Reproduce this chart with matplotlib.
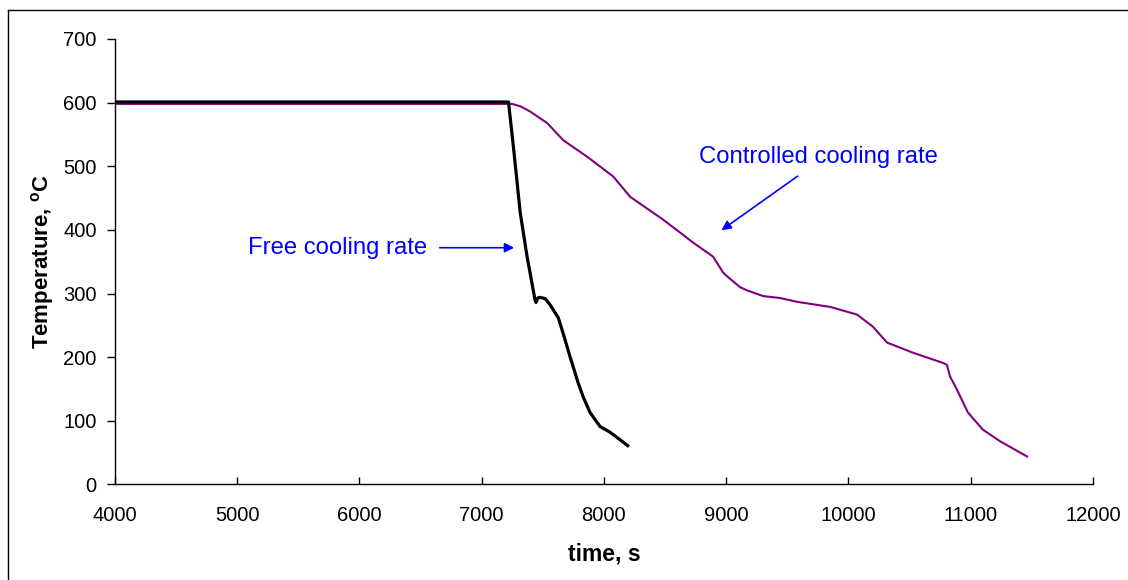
import matplotlib
matplotlib.use("Agg")
import matplotlib.pyplot as plt
from matplotlib.lines import Line2D

plt.rcParams['font.family'] = ['Liberation Sans', 'DejaVu Sans']
plt.rcParams['mathtext.fontset'] = 'custom'
plt.rcParams['mathtext.rm'] = 'Liberation Sans'
plt.rcParams['mathtext.bf'] = 'Liberation Sans:bold'

# Free cooling (black)
free_time = [4000, 7220, 7260, 7316, 7372, 7437, 7445, 7460, 7477, 7520, 7558, 7627,
             7666, 7723, 7789, 7830, 7887, 7969, 8051, 8120, 8195]
free_temp = [601, 601, 531, 427, 358, 290, 286, 293, 294, 292, 283, 262,
             238, 201, 160, 138, 113, 91, 82, 72, 61]

# Controlled cooling (purple)
ctrl_time = [4000, 7250, 7320, 7397, 7536, 7667, 7863, 8076, 8215, 8485, 8622, 8730,
             8893, 8975, 9008, 9114, 9171, 9302, 9441, 9580, 9850, 10070, 10200, 10315,
             10528, 10773, 10805, 10830, 10887, 10977, 11100, 11239, 11460]
ctrl_temp = [598, 598, 594, 586, 568, 541, 515, 484, 452, 416, 396, 380,
             358, 333, 327, 310, 305, 296, 293, 287, 279, 267, 248, 223,
             207, 191, 188, 170, 149, 113, 86, 68, 44]

x_ticks = [4000, 5000, 6000, 7000, 8000, 9000, 10000, 11000, 12000]
y_ticks = [0, 100, 200, 300, 400, 500, 600, 700]

fig = plt.figure(figsize=(11.28, 5.80), dpi=100)
ax = fig.add_axes([0.1017, 0.1647, 0.8673, 0.7681])

ax.plot(ctrl_time, ctrl_temp, color='#800080', lw=1.5, zorder=2)
ax.plot(free_time, free_temp, color='black', lw=2.3, zorder=3)

ax.set_xlim(4000, 12000)
ax.set_ylim(0, 700)
ax.set_xticks(x_ticks)
ax.set_yticks(y_ticks)
ax.tick_params(axis='x', direction='in', length=5, width=1, labelsize=14.5, pad=15.5)
ax.tick_params(axis='y', direction='out', length=6, width=1, labelsize=14.5, pad=7)
ax.spines['top'].set_visible(False)
ax.spines['right'].set_visible(False)
for s in ('left', 'bottom'):
    ax.spines[s].set_linewidth(1)

ax.set_xlabel('time, s', fontsize=16.5, fontweight='bold', labelpad=12.5)
ax.set_ylabel(r'Temperature, $\mathbf{^{o}C}$', fontsize=16, fontweight='bold', labelpad=5)

ax.text(5090, 372, 'Free cooling rate', color='blue', fontsize=17.2, va='center', ha='left')
ax.annotate('', xy=(7289, 372), xytext=(6635, 372),
            arrowprops=dict(arrowstyle='-|>', color='blue', lw=1.2, mutation_scale=14))
ax.text(8778, 515, 'Controlled cooling rate', color='blue', fontsize=17.2, va='center', ha='left')
ax.annotate('', xy=(8943, 397), xytext=(9603, 487),
            arrowprops=dict(arrowstyle='-|>', color='blue', lw=1.2, mutation_scale=14))

# figure border (left and top visible)
fig.add_artist(Line2D([8/1128, 8/1128], [0, 1 - 9.5/580], transform=fig.transFigure, color='black', lw=1))
fig.add_artist(Line2D([8/1128, 1], [1 - 9.5/580, 1 - 9.5/580], transform=fig.transFigure, color='black', lw=1))

fig.savefig('out.png', dpi=100)
